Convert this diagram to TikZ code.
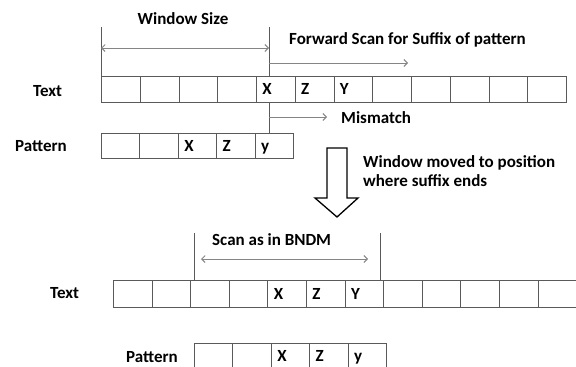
\documentclass[tikz,border=0pt]{standalone}
\usepackage{fontspec}
\setmainfont{Carlito}
\usetikzlibrary{arrows.meta}
\definecolor{cellgray}{HTML}{5A5A5A}
\definecolor{arrgray}{HTML}{858585}
\begin{document}
\begin{tikzpicture}[x=1pt,y=-1pt,
  lbl/.style={font=\fontsize{17}{19}\bfseries\selectfont, inner sep=0pt, text=black},
  cell/.style={draw=cellgray, line width=0.9pt, anchor=north west, inner xsep=6pt, inner ysep=0pt,
    text height=11pt, text depth=0pt,
    align=left, font=\fontsize{17}{19}\bfseries\selectfont},
  wline/.style={draw=cellgray, line width=0.9pt},
  garrow/.style={draw=arrgray, line width=0.9pt, -{Straight Barb[length=3.5pt,width=7pt]}},
  gdarrow/.style={draw=arrgray, line width=0.9pt, {Straight Barb[length=3.5pt,width=7pt]}-{Straight Barb[length=3.5pt,width=7pt]}}
]
\useasboundingbox (0,0) rectangle (576,367);
\clip (0,0) rectangle (576,367);

% ---------- upper part ----------
\foreach \i/\l in {1/{},2/{},3/{},4/{},5/X,6/Z,7/Y,8/{},9/{},10/{},11/{},12/{}}
  \node[cell, text width=26.75pt, minimum height=26pt] (t\i) at ({101+38.75*(\i-1)},76) {\l};
\foreach \i/\l in {1/{},2/{},3/X,4/Z,5/y}
  \node[cell, text width=26.4pt, minimum height=25pt] (p\i) at ({101+38.4*(\i-1)},133) {\l};

\node[lbl, anchor=west] (textA) at (33,91) {Text};
\node[lbl, anchor=west] (patA) at (15,146) {Pattern};
\node[lbl] (wsize) at (183,19) {Window Size};
\node[lbl, anchor=west] (fscan) at (289,39.5) {Forward Scan for Suffix of pattern};
\node[lbl, anchor=west] (mism) at (341,118) {Mismatch};
\node[lbl, anchor=west, align=left] (moved) at (363,171.5) {Window moved to position\\where suffix ends};

\coordinate (wlTop) at (101,27);
\coordinate (wrTop) at (269,27);
\coordinate (wrRow) at (269,76);
\coordinate (wrRowB) at (269,102);
\coordinate (wrPat) at (269,133);
\coordinate (wsL) at (101,48);
\coordinate (wsR) at (269,48);
\coordinate (fsS) at (269,63);
\coordinate (fsE) at (408,63);
\coordinate (mmS) at (269,117);
\coordinate (mmE) at (327,117);

\draw[wline] (wlTop) -- (t1.north west);
\draw[wline] (wrTop) -- (wrRow);
\draw[wline] (wrRowB) -- (wrPat);
\draw[gdarrow] (wsL) -- (wsR);
\draw[garrow] (fsS) -- (fsE);
\draw[garrow] (mmS) -- (mmE);

% big hollow arrow
\draw[black, line width=1.3pt, line join=miter]
  (327,148) -- (347,148) -- (347,198) -- (358,198) -- (337,217) -- (315,198) -- (327,198) -- cycle;

% ---------- lower part ----------
\foreach \i/\l in {1/{},2/{},3/{},4/{},5/X,6/Z,7/Y,8/{},9/{},10/{},11/{},12/{}}
  \node[cell, text width=26.6pt, minimum height=27pt] (u\i) at ({113+38.6*(\i-1)},280) {\l};
\foreach \i/\l in {1/{},2/{},3/X,4/Z,5/y}
  \node[cell, text width=26.4pt, minimum height=25pt] (q\i) at ({194+38.4*(\i-1)},343) {\l};

\node[lbl, anchor=west] (textB) at (50,293) {Text};
\node[lbl] (patB) at (152,357) {Pattern};
\node[lbl, anchor=west] (bndm) at (212,240) {Scan as in BNDM};

\coordinate (blTop) at (194,233);
\coordinate (blBot) at (194,280);
\coordinate (brTop) at (380,233);
\coordinate (brBot) at (380,280);
\coordinate (bsL) at (201,259);
\coordinate (bsR) at (368,259);
\draw[wline] (blTop) -- (blBot);
\draw[wline] (brTop) -- (brBot);
\draw[gdarrow] (bsL) -- (bsR);
\end{tikzpicture}
\end{document}
